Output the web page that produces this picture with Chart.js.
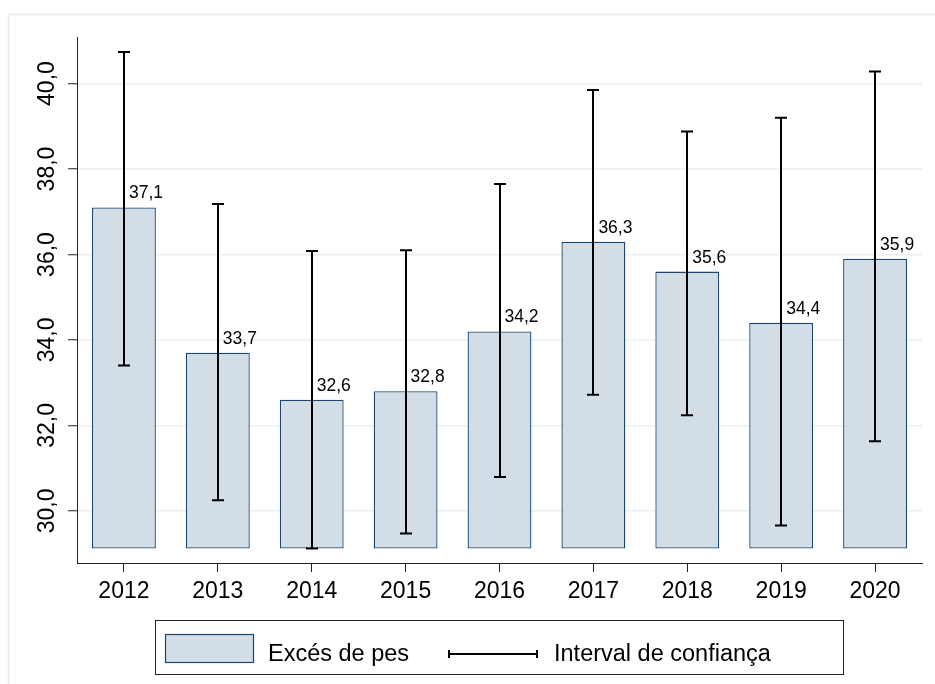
<!DOCTYPE html>
<html>
<head>
<meta charset="utf-8">
<title>Excés de pes</title>
<script src="https://cdn.jsdelivr.net/npm/chart.js@4/dist/chart.umd.min.js"></script>
<style>
  body { margin: 0; background: #fff; }
  canvas { display: block; }
</style>
</head>
<body>
<canvas id="excesChart" width="935" height="684"></canvas>
<script>
const years = ["2012", "2013", "2014", "2015", "2016", "2017", "2018", "2019", "2020"];
const excesPes = [37.1, 33.7, 32.6, 32.8, 34.2, 36.3, 35.6, 34.4, 35.9];
const ciLower = [33.40, 30.25, 29.12, 29.47, 30.79, 32.72, 32.24, 29.66, 31.63];
const ciUpper = [40.74, 37.18, 36.08, 36.10, 37.65, 39.85, 38.88, 39.20, 40.28];
const yTicks = [30, 32, 34, 36, 38, 40];
const barBase = 29.12;
const yMin = 28.78;
const yMax = 41.09;

const FONT = '"Liberation Sans", Arial, sans-serif';
const BAR_FILL = "#d3dde6";
const BAR_EDGE = "#1a476f";
const GRID = "#e8eff1";
const fmt = v => v.toFixed(1).replace(".", ",");

// light outer frame round the whole graph
const framePlugin = {
  id: "frame",
  beforeDraw(chart) {
    const ctx = chart.ctx;
    ctx.save();
    ctx.fillStyle = "#fff";
    ctx.fillRect(0, 0, chart.width, chart.height);
    ctx.strokeStyle = "#e6eef0";
    ctx.lineWidth = 1.5;
    ctx.strokeRect(8.5, 14.5, chart.width + 20, chart.height + 20);
    ctx.restore();
  }
};

// confidence interval whiskers, then the value labels
const errorBarPlugin = {
  id: "errorBars",
  afterDatasetsDraw(chart) {
    const ctx = chart.ctx;
    const y = chart.scales.y;
    const bars = chart.getDatasetMeta(0).data;
    ctx.save();
    ctx.strokeStyle = "#000";
    ctx.lineWidth = 2;
    bars.forEach((bar, i) => {
      const x = Math.round(bar.x);
      const lo = y.getPixelForValue(ciLower[i]);
      const hi = y.getPixelForValue(ciUpper[i]);
      ctx.beginPath();
      ctx.moveTo(x, lo);
      ctx.lineTo(x, hi);
      ctx.moveTo(x - 6, lo);
      ctx.lineTo(x + 6, lo);
      ctx.moveTo(x - 6, hi);
      ctx.lineTo(x + 6, hi);
      ctx.stroke();
    });
    ctx.fillStyle = "#000";
    ctx.font = "17.5px " + FONT;
    ctx.textAlign = "left";
    ctx.textBaseline = "alphabetic";
    bars.forEach((bar, i) => {
      ctx.fillText(fmt(excesPes[i]), bar.x + 5, y.getPixelForValue(excesPes[i]) - 9);
    });
    ctx.restore();
  }
};

// vertical y tick labels
const yLabelPlugin = {
  id: "yLabels",
  afterDraw(chart) {
    const ctx = chart.ctx;
    const y = chart.scales.y;
    ctx.save();
    ctx.fillStyle = "#000";
    ctx.font = "23px " + FONT;
    ctx.textAlign = "center";
    ctx.textBaseline = "alphabetic";
    y.ticks.forEach(t => {
      ctx.save();
      ctx.translate(54, y.getPixelForValue(t.value));
      ctx.rotate(-Math.PI / 2);
      ctx.fillText(fmt(t.value), 0, 0);
      ctx.restore();
    });
    ctx.restore();
  }
};

// boxed legend under the x axis
const legendPlugin = {
  id: "legendBox",
  afterDraw(chart) {
    const ctx = chart.ctx;
    ctx.save();
    ctx.strokeStyle = "#222";
    ctx.lineWidth = 1;
    ctx.strokeRect(155.5, 620.5, 688, 54);

    ctx.fillStyle = BAR_FILL;
    ctx.fillRect(165.5, 634.5, 88, 28);
    ctx.strokeStyle = BAR_EDGE;
    ctx.lineWidth = 1.2;
    ctx.strokeRect(165.5, 634.5, 88, 28);

    ctx.strokeStyle = "#000";
    ctx.lineWidth = 2;
    ctx.beginPath();
    ctx.moveTo(448, 654);
    ctx.lineTo(538, 654);
    ctx.moveTo(449, 650);
    ctx.lineTo(449, 658);
    ctx.moveTo(537, 650);
    ctx.lineTo(537, 658);
    ctx.stroke();

    ctx.fillStyle = "#000";
    ctx.font = "23.5px " + FONT;
    ctx.textBaseline = "alphabetic";
    ctx.fillText("Excés de pes", 268, 661);
    ctx.fillText("Interval de confiança", 554, 661);
    ctx.restore();
  }
};

new Chart(document.getElementById("excesChart"), {
  type: "bar",
  data: {
    labels: years,
    datasets: [
      {
        label: "Excés de pes",
        data: excesPes,
        base: barBase,
        backgroundColor: BAR_FILL,
        borderColor: BAR_EDGE,
        borderWidth: 1.3,
        borderSkipped: false,
        barPercentage: 0.68,
        categoryPercentage: 1,
      },
    ],
  },
  options: {
    responsive: false,
    animation: false,
    devicePixelRatio: 1,
    layout: { padding: { left: 0, top: 37, right: 13, bottom: 0 } },
    plugins: {
      legend: { display: false },
      tooltip: { enabled: false },
    },
    scales: {
      x: {
        offset: true,
        grid: {
          offset: false,
          drawOnChartArea: false,
          drawTicks: true,
          tickLength: 9,
          tickColor: "#222",
          tickWidth: 1,
        },
        border: { color: "#222", width: 1 },
        ticks: {
          color: "#000",
          padding: 6,
          font: { family: FONT, size: 23 },
        },
        afterFit(scale) { scale.height = 121; },
      },
      y: {
        min: yMin,
        max: yMax,
        afterBuildTicks(scale) { scale.ticks = yTicks.map(v => ({ value: v })); },
        grid: {
          color: GRID,
          lineWidth: 1.5,
          drawTicks: true,
          tickLength: 9,
          tickColor: "#222",
          tickWidth: 1,
        },
        border: { color: "#222", width: 1 },
        ticks: { display: false },
        afterFit(scale) { scale.width = 77; },
      },
    },
  },
  plugins: [framePlugin, errorBarPlugin, yLabelPlugin, legendPlugin],
});
</script>
</body>
</html>
